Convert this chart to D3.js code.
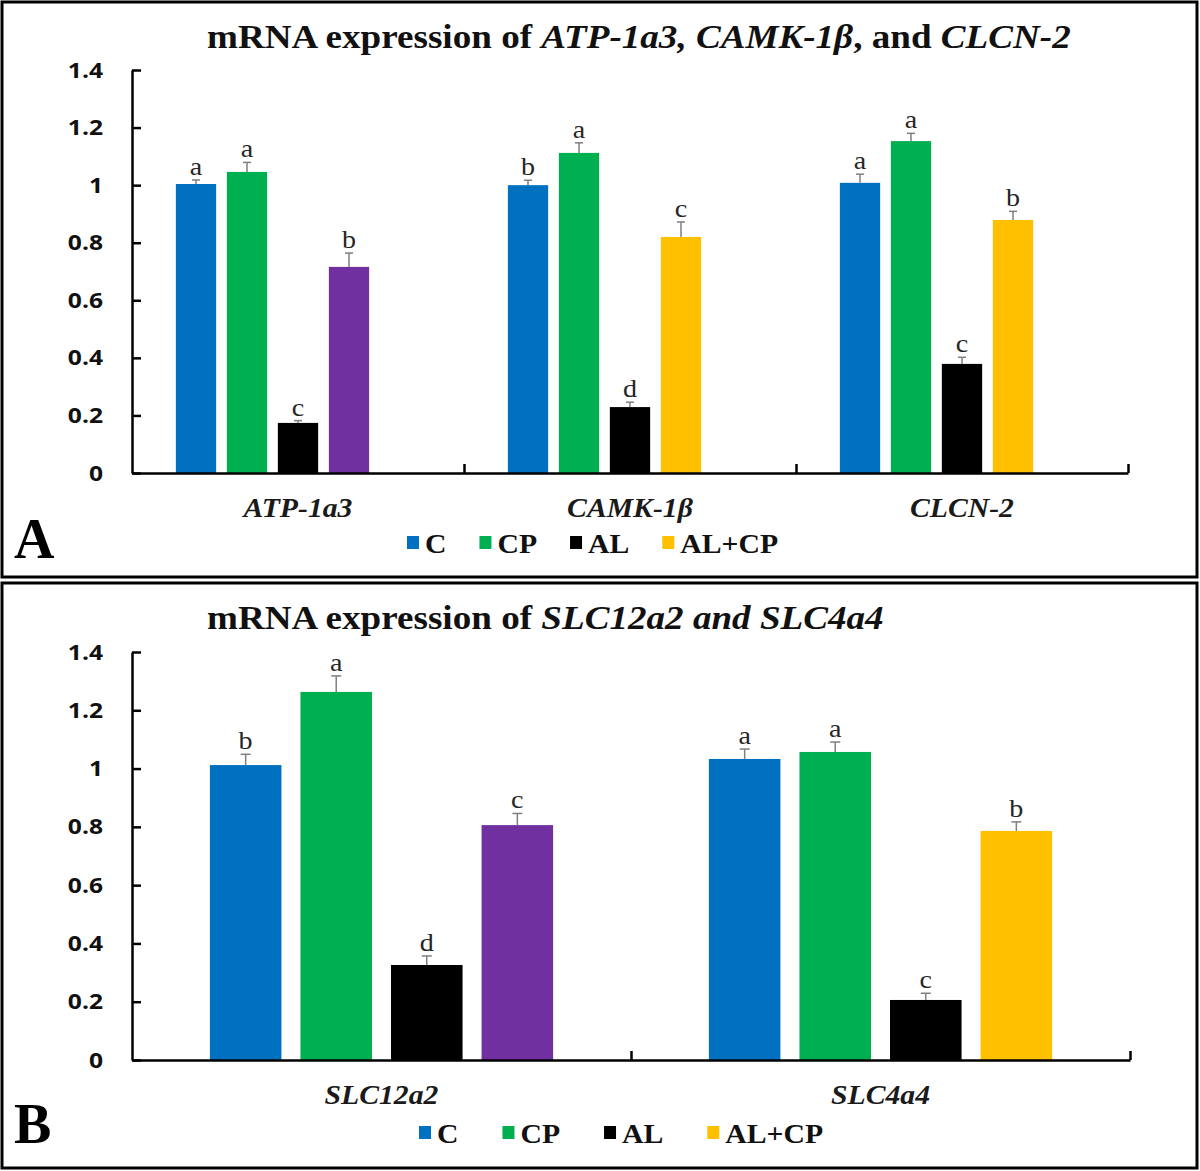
<!DOCTYPE html>
<html>
<head>
<meta charset="utf-8">
<script src="https://cdn.jsdelivr.net/npm/d3@7"></script>
<style>
  body { margin: 0; background: #fff; }
  svg { display: block; }
</style>
</head>
<body>
<div class="chart"></div>
<script>
const seriesNames = ['C', 'CP', 'AL', 'AL+CP'];
const seriesColors = ['#0070C0', '#00B050', '#000000', '#FFC000'];
const accentColor = '#7030A0'; // AL+CP bar of the first gene is purple in both panels

const yTicks = [0, 0.2, 0.4, 0.6, 0.8, 1, 1.2, 1.4];

// panel A
const titleA = [['mRNA expression of ', false], ['ATP-1a3, CAMK-1β', true], [', and ', false], ['CLCN-2', true]];
const genesA = ['ATP-1a3', 'CAMK-1β', 'CLCN-2'];
const meansA = [
  [1.004, 1.046, 0.174, 0.716],
  [1.000, 1.112, 0.229, 0.820],
  [1.008, 1.153, 0.379, 0.879]
];
const errorsA = [
  [0.014, 0.033, 0.008, 0.048],
  [0.017, 0.035, 0.017, 0.052],
  [0.030, 0.027, 0.023, 0.030]
];
const lettersA = [
  ['a', 'a', 'c', 'b'],
  ['b', 'a', 'd', 'c'],
  ['a', 'a', 'c', 'b']
];

// panel B
const titleB = [['mRNA expression of ', false], ['SLC12a2 and SLC4a4', true]];
const genesB = ['SLC12a2', 'SLC4a4'];
const meansB = [
  [1.012, 1.263, 0.326, 0.806],
  [1.033, 1.057, 0.206, 0.786]
];
const errorsB = [
  [0.037, 0.055, 0.031, 0.040],
  [0.034, 0.034, 0.023, 0.031]
];
const lettersB = [
  ['b', 'a', 'd', 'c'],
  ['a', 'a', 'c', 'b']
];

const serif = '"Liberation Serif", "Times New Roman", serif';
const sans = '"Open Sans", "Liberation Sans", sans-serif';

const panels = [
  {
    tag: 'A', title: titleA, genes: genesA, means: meansA, errors: errorsA, letters: lettersA,
    box: { x: 2, y: 2, w: 1195, h: 575 },
    plot: { left: 132, right: 1128, top: 70, bottom: 473 },
    slots: 5, capW: 8,
    titleY: 48, tagY: 558, legendX: 407, legendY: 553, legendGap: 33
  },
  {
    tag: 'B', title: titleB, genes: genesB, means: meansB, errors: errorsB, letters: lettersB,
    box: { x: 2, y: 583, w: 1195, h: 585 },
    plot: { left: 132, right: 1130, top: 652, bottom: 1060 },
    slots: 4, capW: 10,
    titleY: 629, tagY: 1143, legendX: 419, legendY: 1143, legendGap: 44
  }
];

// the source figure is a little wider than tall, so its text looks stretched sideways
const stretch = (sel, sx) => {
  sel.each(function () {
    const x = +this.getAttribute('x') || 0;
    d3.select(this).attr('transform', `translate(${x * (1 - sx)}, 0) scale(${sx}, 1)`);
  });
};

const svg = d3.select('.chart')
  .append('svg')
  .attr('width', 1200)
  .attr('height', 1171);

svg.append('rect')
  .attr('width', 1200)
  .attr('height', 1171)
  .attr('fill', '#fff');

const drawPanel = (p) => {
  const g = svg.append('g');

  g.append('rect')
    .attr('x', p.box.x)
    .attr('y', p.box.y)
    .attr('width', p.box.w)
    .attr('height', p.box.h)
    .attr('fill', 'none')
    .attr('stroke', '#000')
    .attr('stroke-width', 3);

  const title = g.append('text')
    .attr('x', 207)
    .attr('y', p.titleY)
    .attr('font-family', serif)
    .attr('font-weight', 'bold')
    .attr('font-size', 33)
    .attr('fill', '#111');
  p.title.forEach(([t, italic]) => {
    title.append('tspan')
      .attr('font-style', italic ? 'italic' : 'normal')
      .text(t);
  });
  stretch(title, 1.125);

  const x0 = d3.scaleBand()
    .domain(p.genes)
    .range([p.plot.left, p.plot.right]);

  // panel A keeps an empty fifth slot, so its groups sit left of centre
  const x1 = d3.scaleBand()
    .domain(d3.range(p.slots))
    .range([0, x0.bandwidth()])
    .paddingInner(0.21)
    .paddingOuter(0.86);

  const y = d3.scaleLinear()
    .domain([0, 1.4])
    .range([p.plot.bottom, p.plot.top]);

  const bars = p.genes.flatMap((gene, gi) => seriesNames.map((s, si) => ({
    gene, gi, si,
    value: p.means[gi][si],
    err: p.errors[gi][si],
    letter: p.letters[gi][si]
  })));
  const cx = d => x0(d.gene) + x1(d.si) + x1.bandwidth() / 2;

  g.append('g').selectAll('rect')
    .data(bars)
    .enter()
    .append('rect')
    .attr('x', d => x0(d.gene) + x1(d.si))
    .attr('y', d => y(d.value))
    .attr('width', x1.bandwidth())
    .attr('height', d => y(0) - y(d.value))
    .attr('fill', d => (d.gi === 0 && d.si === 3) ? accentColor : seriesColors[d.si]);

  const errG = g.append('g')
    .attr('stroke', '#7f7f7f')
    .attr('stroke-width', 1.5);
  errG.selectAll('line.v')
    .data(bars)
    .enter()
    .append('line')
    .attr('class', 'v')
    .attr('x1', cx)
    .attr('x2', cx)
    .attr('y1', d => y(d.value))
    .attr('y2', d => y(d.value + d.err));
  errG.selectAll('line.cap')
    .data(bars)
    .enter()
    .append('line')
    .attr('class', 'cap')
    .attr('x1', d => cx(d) - p.capW / 2)
    .attr('x2', d => cx(d) + p.capW / 2)
    .attr('y1', d => y(d.value + d.err))
    .attr('y2', d => y(d.value + d.err));

  const letters = g.append('g').selectAll('text')
    .data(bars)
    .enter()
    .append('text')
    .attr('x', cx)
    .attr('y', d => y(d.value + d.err) - 5)
    .attr('text-anchor', 'middle')
    .attr('font-family', serif)
    .attr('font-size', 26)
    .attr('fill', '#262626')
    .text(d => d.letter);
  stretch(letters, 1.08);

  // y axis, ticks pointing into the plot
  const yAxis = g.append('g')
    .attr('transform', `translate(${p.plot.left}, 0)`)
    .call(d3.axisLeft(y).tickValues(yTicks).tickFormat(d3.format('')).tickSize(-9).tickSizeOuter(0).tickPadding(29));
  yAxis.selectAll('path, line')
    .attr('stroke', '#000')
    .attr('stroke-width', 2.5);
  const yLabels = yAxis.selectAll('text')
    .attr('font-family', sans)
    .attr('font-weight', 'bold')
    .attr('font-size', 22)
    .attr('fill', '#111');
  stretch(yLabels, 1.12);

  // x axis with ticks between the gene groups
  const xb = d3.scaleLinear()
    .domain([0, p.genes.length])
    .range([p.plot.left, p.plot.right]);
  const xAxis = g.append('g')
    .attr('transform', `translate(0, ${p.plot.bottom})`)
    .call(d3.axisBottom(xb).tickValues(d3.range(1, p.genes.length + 1)).tickSize(-9).tickSizeOuter(0).tickFormat(''));
  xAxis.selectAll('path, line')
    .attr('stroke', '#000')
    .attr('stroke-width', 2.5);

  const geneLabels = g.append('g').selectAll('text')
    .data(p.genes)
    .enter()
    .append('text')
    .attr('x', d => x0(d) + x0.bandwidth() / 2)
    .attr('y', p.plot.bottom + 44)
    .attr('text-anchor', 'middle')
    .attr('font-family', serif)
    .attr('font-weight', 'bold')
    .attr('font-style', 'italic')
    .attr('font-size', 27)
    .attr('fill', '#1a1a1a')
    .text(d => d);
  stretch(geneLabels, 1.1);

  g.append('text')
    .attr('x', 14)
    .attr('y', p.tagY)
    .attr('font-family', serif)
    .attr('font-weight', 'bold')
    .attr('font-size', 56)
    .attr('fill', '#000')
    .text(p.tag);

  // legend
  const sx = 1.1;
  let lx = p.legendX;
  seriesNames.forEach((name, si) => {
    g.append('rect')
      .attr('x', lx)
      .attr('y', p.legendY - 17)
      .attr('width', 12)
      .attr('height', 13)
      .attr('fill', seriesColors[si]);
    const t = g.append('text')
      .attr('x', lx + 18)
      .attr('y', p.legendY)
      .attr('font-family', serif)
      .attr('font-weight', 'bold')
      .attr('font-size', 27)
      .attr('fill', '#111')
      .text(name);
    stretch(t, sx);
    lx += 18 + t.node().getComputedTextLength() * sx + p.legendGap;
  });
};

panels.forEach(drawPanel);
</script>
</body>
</html>
